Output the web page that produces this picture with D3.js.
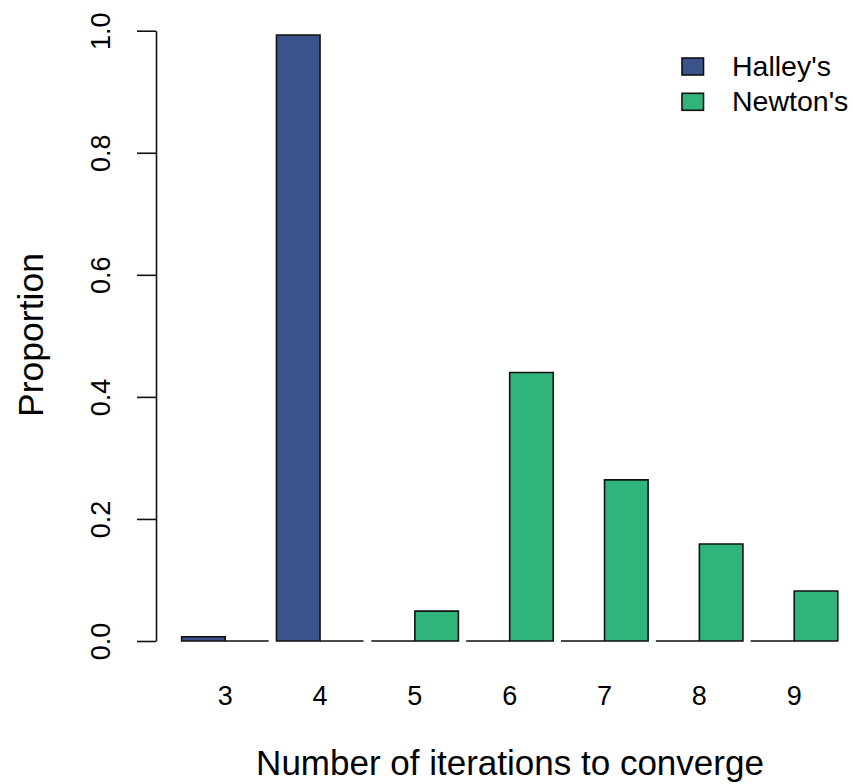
<!DOCTYPE html>
<html>
<head>
<meta charset="utf-8">
<script src="https://cdn.jsdelivr.net/npm/d3@7"></script>
<style>
  body { margin: 0; background: #fff; }
  svg { display: block; font-family: "Liberation Sans", Arial, sans-serif; }
</style>
</head>
<body>
<svg id="chart" width="853" height="784"></svg>
<script>
// Data
const categories = ["3", "4", "5", "6", "7", "8", "9"];
const halley = [0.007, 0.993, 0, 0, 0, 0, 0];
const newton = [0, 0, 0.049, 0.440, 0.264, 0.159, 0.082];
const seriesNames = ["Halley's", "Newton's"];
const yTicks = [0, 0.2, 0.4, 0.6, 0.8, 1.0];

const colors = { "Halley's": "#3B528B", "Newton's": "#2FB47C" };

const svg = d3.select("#chart");

// Scales
const x = d3.scaleBand()
    .domain(categories)
    .range([173.9, 845.5])
    .padding(0.0816);

const xInner = d3.scaleBand()
    .domain(seriesNames)
    .range([0, x.bandwidth()]);

const y = d3.scaleLinear()
    .domain([0, 1])
    .range([641, 30.7]);

// Build rows for drawing
const rows = [];
categories.forEach((c, i) => {
    rows.push({ cat: c, series: "Halley's", value: halley[i] });
    rows.push({ cat: c, series: "Newton's", value: newton[i] });
});

// Bars as paths so zero-height bars still show as a line
svg.append("g")
    .selectAll("path")
    .data(rows)
    .join("path")
    .attr("d", d => {
        const x0 = x(d.cat) + xInner(d.series);
        const x1 = x0 + xInner.bandwidth();
        const y0 = y(0), y1 = y(d.value);
        return `M${x0},${y0}H${x1}V${y1}H${x0}Z`;
    })
    .attr("fill", d => colors[d.series])
    .attr("stroke", "#111")
    .attr("stroke-width", 1.6);

// Y axis (R style: line spans the tick range only)
const yAxis = svg.append("g")
    .attr("transform", "translate(156,0)")
    .call(d3.axisLeft(y).tickValues(yTicks).tickFormat(d3.format(".1f")).tickSize(19).tickSizeOuter(0));

yAxis.select(".domain").attr("stroke", "#111").attr("stroke-width", 1.6);
yAxis.selectAll(".tick line").attr("stroke", "#111").attr("stroke-width", 1.6);
yAxis.selectAll(".tick text")
    .attr("font-size", 27)
    .attr("fill", "#000")
    .attr("text-anchor", "middle")
    .attr("dy", 0)
    .attr("x", 0)
    .attr("transform", "translate(-46,0) rotate(-90)");

// X labels (no axis line)
svg.append("g")
    .selectAll("text")
    .data(categories)
    .join("text")
    .attr("x", d => x(d) + x.bandwidth() / 2)
    .attr("y", 705)
    .attr("text-anchor", "middle")
    .attr("font-size", 27)
    .text(d => d);

// Axis titles
svg.append("text")
    .attr("x", 510)
    .attr("y", 775)
    .attr("text-anchor", "middle")
    .attr("font-size", 35)
    .text("Number of iterations to converge");

svg.append("text")
    .attr("transform", "translate(43,335) rotate(-90)")
    .attr("text-anchor", "middle")
    .attr("font-size", 35.5)
    .text("Proportion");

// Legend
const legend = svg.append("g").attr("transform", "translate(682,58)");
seriesNames.forEach((name, i) => {
    const row = legend.append("g").attr("transform", `translate(0,${i * 35.3})`);
    row.append("rect")
        .attr("width", 21.5)
        .attr("height", 17)
        .attr("fill", colors[name])
        .attr("stroke", "#111")
        .attr("stroke-width", 1.6);
    row.append("text")
        .attr("x", 50)
        .attr("y", 18)
        .attr("font-size", 28.5)
        .text(name);
});
</script>
</body>
</html>
